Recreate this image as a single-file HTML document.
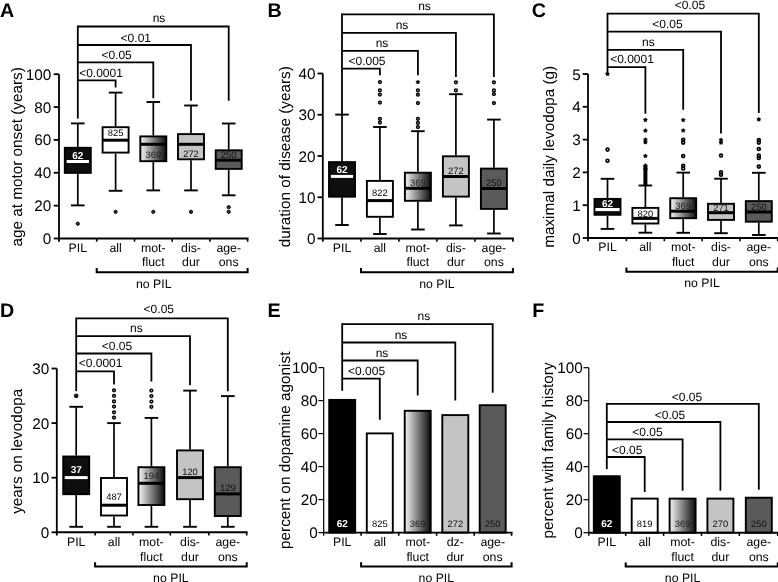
<!DOCTYPE html><html><head><meta charset="utf-8"><style>html,body{margin:0;padding:0;background:#fff;width:778px;height:582px;overflow:hidden}svg{display:block;will-change:transform;font-family:"Liberation Sans",sans-serif;text-rendering:geometricPrecision}</style></head><body>
<svg width="778" height="582" viewBox="0 0 778 582">
<defs><linearGradient id="grad" x1="0" y1="0" x2="1" y2="0"><stop offset="0" stop-color="#d4d4d4"/><stop offset="0.08" stop-color="#e4e4e4"/><stop offset="1" stop-color="#0c0c0c"/></linearGradient></defs>
<rect width="778" height="582" fill="#fff"/>
<text x="0.00" y="16.50" font-size="19.7" text-anchor="start" font-weight="bold" fill="#000" >A</text>
<text x="267.40" y="16.50" font-size="19.7" text-anchor="start" font-weight="bold" fill="#000" >B</text>
<text x="531.80" y="16.50" font-size="19.7" text-anchor="start" font-weight="bold" fill="#000" >C</text>
<text x="0.10" y="316.70" font-size="19.7" text-anchor="start" font-weight="bold" fill="#000" >D</text>
<text x="267.60" y="316.70" font-size="19.7" text-anchor="start" font-weight="bold" fill="#000" >E</text>
<text x="532.30" y="316.80" font-size="19.7" text-anchor="start" font-weight="bold" fill="#000" >F</text>
<text transform="translate(21.50,246.60) rotate(-90)" font-size="15.3" text-anchor="start">age at motor onset (years)</text>
<text transform="translate(290.00,247.30) rotate(-90)" font-size="15.3" text-anchor="start">duration of disease (years)</text>
<text transform="translate(554.00,247.80) rotate(-90)" font-size="15.3" text-anchor="start">maximal daily levodopa (g)</text>
<text transform="translate(22.00,513.80) rotate(-90)" font-size="15.3" text-anchor="start">years on levodopa</text>
<text transform="translate(289.50,548.90) rotate(-90)" font-size="15.3" text-anchor="start">percent on dopamine agonist</text>
<text transform="translate(552.70,538.40) rotate(-90)" font-size="15.3" text-anchor="start">percent with family history</text>
<line x1="59.00" y1="74.20" x2="59.00" y2="241.70" stroke="#000" stroke-width="1.8"/>
<line x1="53.70" y1="238.50" x2="59.00" y2="238.50" stroke="#000" stroke-width="1.8"/>
<text x="51.35" y="244.00" font-size="15.3" text-anchor="end" font-weight="normal" fill="#000" >0</text>
<line x1="53.70" y1="205.64" x2="59.00" y2="205.64" stroke="#000" stroke-width="1.8"/>
<text x="51.35" y="211.14" font-size="15.3" text-anchor="end" font-weight="normal" fill="#000" >20</text>
<line x1="53.70" y1="172.78" x2="59.00" y2="172.78" stroke="#000" stroke-width="1.8"/>
<text x="51.35" y="178.28" font-size="15.3" text-anchor="end" font-weight="normal" fill="#000" >40</text>
<line x1="53.70" y1="139.92" x2="59.00" y2="139.92" stroke="#000" stroke-width="1.8"/>
<text x="51.35" y="145.42" font-size="15.3" text-anchor="end" font-weight="normal" fill="#000" >60</text>
<line x1="53.70" y1="107.06" x2="59.00" y2="107.06" stroke="#000" stroke-width="1.8"/>
<text x="51.35" y="112.56" font-size="15.3" text-anchor="end" font-weight="normal" fill="#000" >80</text>
<line x1="53.70" y1="74.20" x2="59.00" y2="74.20" stroke="#000" stroke-width="1.8"/>
<text x="51.35" y="79.70" font-size="15.3" text-anchor="end" font-weight="normal" fill="#000" >100</text>
<line x1="58.10" y1="238.50" x2="248.50" y2="238.50" stroke="#000" stroke-width="1.9"/>
<line x1="96.70" y1="238.50" x2="96.70" y2="241.70" stroke="#000" stroke-width="1.6"/>
<line x1="134.50" y1="238.50" x2="134.50" y2="241.70" stroke="#000" stroke-width="1.6"/>
<line x1="172.20" y1="238.50" x2="172.20" y2="241.70" stroke="#000" stroke-width="1.6"/>
<line x1="209.90" y1="238.50" x2="209.90" y2="241.70" stroke="#000" stroke-width="1.6"/>
<line x1="247.60" y1="238.50" x2="247.60" y2="241.70" stroke="#000" stroke-width="1.6"/>
<text x="77.80" y="251.60" font-size="12.3" text-anchor="middle" font-weight="normal" fill="#000" >PIL</text>
<text x="115.60" y="251.60" font-size="12.3" text-anchor="middle" font-weight="normal" fill="#000" >all</text>
<text x="153.30" y="251.60" font-size="12.3" text-anchor="middle" font-weight="normal" fill="#000" >mot-</text>
<text x="153.30" y="266.20" font-size="12.3" text-anchor="middle" font-weight="normal" fill="#000" >fluct</text>
<text x="191.00" y="251.60" font-size="12.3" text-anchor="middle" font-weight="normal" fill="#000" >dis-</text>
<text x="191.00" y="266.20" font-size="12.3" text-anchor="middle" font-weight="normal" fill="#000" >dur</text>
<text x="228.70" y="251.60" font-size="12.3" text-anchor="middle" font-weight="normal" fill="#000" >age-</text>
<text x="228.70" y="266.20" font-size="12.3" text-anchor="middle" font-weight="normal" fill="#000" >ons</text>
<path d="M96.70,268.10 L96.70,272.30 L247.60,272.30 L247.60,268.10" stroke="#000" stroke-width="2.0" fill="none" />
<text x="153.80" y="287.90" font-size="12.3" text-anchor="middle" font-weight="normal" fill="#000" >no PIL</text>
<line x1="77.80" y1="25.60" x2="77.80" y2="118.60" stroke="#000" stroke-width="1.8"/>
<path d="M77.80,26.50 L228.70,26.50 L228.70,100.80" stroke="#000" stroke-width="1.8" fill="none" />
<text x="159.00" y="22.30" font-size="12" text-anchor="middle" font-weight="normal" fill="#000" >ns</text>
<path d="M77.80,45.00 L191.00,45.00 L191.00,100.80" stroke="#000" stroke-width="1.8" fill="none" />
<text x="135.80" y="41.60" font-size="12" text-anchor="middle" font-weight="normal" fill="#000" >&lt;0.01</text>
<path d="M77.80,62.30 L153.30,62.30 L153.30,98.20" stroke="#000" stroke-width="1.8" fill="none" />
<text x="116.60" y="58.80" font-size="12" text-anchor="middle" font-weight="normal" fill="#000" >&lt;0.05</text>
<path d="M77.80,80.30 L115.60,80.30 L115.60,87.40" stroke="#000" stroke-width="1.8" fill="none" />
<text x="101.00" y="77.10" font-size="12" text-anchor="middle" font-weight="normal" fill="#000" >&lt;0.0001</text>
<line x1="77.80" y1="123.40" x2="77.80" y2="146.90" stroke="#000" stroke-width="1.7"/>
<line x1="77.80" y1="173.80" x2="77.80" y2="205.40" stroke="#000" stroke-width="1.7"/>
<line x1="71.00" y1="123.40" x2="84.60" y2="123.40" stroke="#000" stroke-width="1.9"/>
<line x1="71.00" y1="205.40" x2="84.60" y2="205.40" stroke="#000" stroke-width="1.9"/>
<rect x="64.80" y="147.80" width="26.00" height="25.10" fill="#0e0e0e" stroke="#000" stroke-width="1.9"/>
<rect x="66.70" y="160.00" width="22.20" height="3.00" fill="#fff"/>
<text x="77.80" y="158.90" font-size="10" text-anchor="middle" font-weight="bold" fill="#fff" >62</text>
<circle cx="77.80" cy="223.70" r="1.6" fill="#333" stroke="#000" stroke-width="1.0"/>
<line x1="115.60" y1="92.60" x2="115.60" y2="126.30" stroke="#000" stroke-width="1.7"/>
<line x1="115.60" y1="153.50" x2="115.60" y2="190.80" stroke="#000" stroke-width="1.7"/>
<line x1="108.80" y1="92.60" x2="122.40" y2="92.60" stroke="#000" stroke-width="1.9"/>
<line x1="108.80" y1="190.80" x2="122.40" y2="190.80" stroke="#000" stroke-width="1.9"/>
<rect x="102.60" y="127.20" width="26.00" height="25.40" fill="#fff" stroke="#000" stroke-width="1.9"/>
<line x1="102.60" y1="140.20" x2="128.60" y2="140.20" stroke="#000" stroke-width="3.0"/>
<text x="115.60" y="136.10" font-size="9.4" text-anchor="middle" font-weight="normal" fill="#000" >825</text>
<circle cx="115.60" cy="211.80" r="1.6" fill="#333" stroke="#000" stroke-width="1.0"/>
<line x1="153.30" y1="102.00" x2="153.30" y2="135.50" stroke="#000" stroke-width="1.7"/>
<line x1="153.30" y1="162.10" x2="153.30" y2="190.40" stroke="#000" stroke-width="1.7"/>
<line x1="146.50" y1="102.00" x2="160.10" y2="102.00" stroke="#000" stroke-width="1.9"/>
<line x1="146.50" y1="190.40" x2="160.10" y2="190.40" stroke="#000" stroke-width="1.9"/>
<rect x="140.30" y="136.40" width="26.00" height="24.80" fill="url(#grad)" stroke="#000" stroke-width="1.9"/>
<line x1="140.30" y1="144.30" x2="166.30" y2="144.30" stroke="#000" stroke-width="3.0"/>
<text x="153.30" y="157.90" font-size="9.4" text-anchor="middle" font-weight="normal" fill="#222" >369</text>
<circle cx="153.30" cy="211.80" r="1.6" fill="#333" stroke="#000" stroke-width="1.0"/>
<line x1="191.00" y1="105.50" x2="191.00" y2="133.20" stroke="#000" stroke-width="1.7"/>
<line x1="191.00" y1="160.20" x2="191.00" y2="190.40" stroke="#000" stroke-width="1.7"/>
<line x1="184.20" y1="105.50" x2="197.80" y2="105.50" stroke="#000" stroke-width="1.9"/>
<line x1="184.20" y1="190.40" x2="197.80" y2="190.40" stroke="#000" stroke-width="1.9"/>
<rect x="178.00" y="134.10" width="26.00" height="25.20" fill="#c4c4c4" stroke="#000" stroke-width="1.9"/>
<line x1="178.00" y1="144.30" x2="204.00" y2="144.30" stroke="#000" stroke-width="3.0"/>
<text x="191.00" y="156.80" font-size="9.4" text-anchor="middle" font-weight="normal" fill="#111" >272</text>
<circle cx="191.00" cy="211.80" r="1.6" fill="#333" stroke="#000" stroke-width="1.0"/>
<line x1="228.70" y1="123.50" x2="228.70" y2="149.40" stroke="#000" stroke-width="1.7"/>
<line x1="228.70" y1="169.80" x2="228.70" y2="195.30" stroke="#000" stroke-width="1.7"/>
<line x1="221.90" y1="123.50" x2="235.50" y2="123.50" stroke="#000" stroke-width="1.9"/>
<line x1="221.90" y1="195.30" x2="235.50" y2="195.30" stroke="#000" stroke-width="1.9"/>
<rect x="215.70" y="150.30" width="26.00" height="18.60" fill="#5a5a5a" stroke="#000" stroke-width="1.9"/>
<line x1="215.70" y1="160.20" x2="241.70" y2="160.20" stroke="#000" stroke-width="3.0"/>
<text x="228.70" y="157.60" font-size="9.4" text-anchor="middle" font-weight="normal" fill="#111" >250</text>
<circle cx="228.70" cy="207.20" r="1.6" fill="#333" stroke="#000" stroke-width="1.0"/>
<circle cx="228.70" cy="211.80" r="1.6" fill="#333" stroke="#000" stroke-width="1.0"/>
<line x1="322.80" y1="73.50" x2="322.80" y2="241.70" stroke="#000" stroke-width="1.8"/>
<line x1="317.50" y1="238.50" x2="322.80" y2="238.50" stroke="#000" stroke-width="1.8"/>
<text x="315.45" y="244.00" font-size="15.3" text-anchor="end" font-weight="normal" fill="#000" >0</text>
<line x1="317.50" y1="197.25" x2="322.80" y2="197.25" stroke="#000" stroke-width="1.8"/>
<text x="315.45" y="202.75" font-size="15.3" text-anchor="end" font-weight="normal" fill="#000" >10</text>
<line x1="317.50" y1="156.00" x2="322.80" y2="156.00" stroke="#000" stroke-width="1.8"/>
<text x="315.45" y="161.50" font-size="15.3" text-anchor="end" font-weight="normal" fill="#000" >20</text>
<line x1="317.50" y1="114.75" x2="322.80" y2="114.75" stroke="#000" stroke-width="1.8"/>
<text x="315.45" y="120.25" font-size="15.3" text-anchor="end" font-weight="normal" fill="#000" >30</text>
<line x1="317.50" y1="73.50" x2="322.80" y2="73.50" stroke="#000" stroke-width="1.8"/>
<text x="315.45" y="79.00" font-size="15.3" text-anchor="end" font-weight="normal" fill="#000" >40</text>
<line x1="321.90" y1="238.50" x2="513.80" y2="238.50" stroke="#000" stroke-width="1.9"/>
<line x1="361.00" y1="238.50" x2="361.00" y2="241.70" stroke="#000" stroke-width="1.6"/>
<line x1="398.90" y1="238.50" x2="398.90" y2="241.70" stroke="#000" stroke-width="1.6"/>
<line x1="436.90" y1="238.50" x2="436.90" y2="241.70" stroke="#000" stroke-width="1.6"/>
<line x1="474.90" y1="238.50" x2="474.90" y2="241.70" stroke="#000" stroke-width="1.6"/>
<line x1="512.90" y1="238.50" x2="512.90" y2="241.70" stroke="#000" stroke-width="1.6"/>
<text x="342.00" y="251.60" font-size="12.3" text-anchor="middle" font-weight="normal" fill="#000" >PIL</text>
<text x="379.90" y="251.60" font-size="12.3" text-anchor="middle" font-weight="normal" fill="#000" >all</text>
<text x="417.90" y="251.60" font-size="12.3" text-anchor="middle" font-weight="normal" fill="#000" >mot-</text>
<text x="417.90" y="266.20" font-size="12.3" text-anchor="middle" font-weight="normal" fill="#000" >fluct</text>
<text x="455.90" y="251.60" font-size="12.3" text-anchor="middle" font-weight="normal" fill="#000" >dis-</text>
<text x="455.90" y="266.20" font-size="12.3" text-anchor="middle" font-weight="normal" fill="#000" >dur</text>
<text x="493.90" y="251.60" font-size="12.3" text-anchor="middle" font-weight="normal" fill="#000" >age-</text>
<text x="493.90" y="266.20" font-size="12.3" text-anchor="middle" font-weight="normal" fill="#000" >ons</text>
<path d="M361.00,268.10 L361.00,272.30 L512.90,272.30 L512.90,268.10" stroke="#000" stroke-width="2.0" fill="none" />
<text x="436.95" y="287.90" font-size="12.3" text-anchor="middle" font-weight="normal" fill="#000" >no PIL</text>
<line x1="342.00" y1="13.50" x2="342.00" y2="114.60" stroke="#000" stroke-width="1.8"/>
<path d="M342.00,14.40 L493.90,14.40 L493.90,76.90" stroke="#000" stroke-width="1.8" fill="none" />
<text x="424.50" y="10.30" font-size="12" text-anchor="middle" font-weight="normal" fill="#000" >ns</text>
<path d="M342.00,32.80 L455.90,32.80 L455.90,76.90" stroke="#000" stroke-width="1.8" fill="none" />
<text x="402.00" y="29.30" font-size="12" text-anchor="middle" font-weight="normal" fill="#000" >ns</text>
<path d="M342.00,50.80 L417.90,50.80 L417.90,75.20" stroke="#000" stroke-width="1.8" fill="none" />
<text x="382.00" y="47.30" font-size="12" text-anchor="middle" font-weight="normal" fill="#000" >ns</text>
<path d="M342.00,68.60 L379.90,68.60 L379.90,75.20" stroke="#000" stroke-width="1.8" fill="none" />
<text x="367.00" y="65.30" font-size="12" text-anchor="middle" font-weight="normal" fill="#000" >&lt;0.005</text>
<line x1="342.00" y1="114.60" x2="342.00" y2="161.20" stroke="#000" stroke-width="1.7"/>
<line x1="342.00" y1="197.60" x2="342.00" y2="225.00" stroke="#000" stroke-width="1.7"/>
<line x1="335.20" y1="114.60" x2="348.80" y2="114.60" stroke="#000" stroke-width="1.9"/>
<line x1="335.20" y1="225.00" x2="348.80" y2="225.00" stroke="#000" stroke-width="1.9"/>
<rect x="329.00" y="162.10" width="26.00" height="34.60" fill="#0e0e0e" stroke="#000" stroke-width="1.9"/>
<rect x="330.90" y="174.90" width="22.20" height="3.00" fill="#fff"/>
<text x="342.00" y="173.40" font-size="10" text-anchor="middle" font-weight="bold" fill="#fff" >62</text>
<line x1="379.90" y1="127.00" x2="379.90" y2="180.00" stroke="#000" stroke-width="1.7"/>
<line x1="379.90" y1="217.70" x2="379.90" y2="234.00" stroke="#000" stroke-width="1.7"/>
<line x1="373.10" y1="127.00" x2="386.70" y2="127.00" stroke="#000" stroke-width="1.9"/>
<line x1="373.10" y1="234.00" x2="386.70" y2="234.00" stroke="#000" stroke-width="1.9"/>
<rect x="366.90" y="180.90" width="26.00" height="35.90" fill="#fff" stroke="#000" stroke-width="1.9"/>
<line x1="366.90" y1="200.60" x2="392.90" y2="200.60" stroke="#000" stroke-width="3.0"/>
<text x="379.90" y="195.80" font-size="9.4" text-anchor="middle" font-weight="normal" fill="#000" >822</text>
<circle cx="379.90" cy="82.10" r="1.35" fill="none" stroke="#000" stroke-width="1.55"/>
<circle cx="379.90" cy="90.30" r="1.35" fill="none" stroke="#000" stroke-width="1.55"/>
<circle cx="379.90" cy="94.50" r="1.35" fill="none" stroke="#000" stroke-width="1.55"/>
<circle cx="379.90" cy="102.60" r="1.35" fill="none" stroke="#000" stroke-width="1.55"/>
<circle cx="379.90" cy="118.80" r="1.35" fill="none" stroke="#000" stroke-width="1.55"/>
<circle cx="379.90" cy="122.60" r="1.35" fill="none" stroke="#000" stroke-width="1.55"/>
<line x1="417.90" y1="131.20" x2="417.90" y2="171.80" stroke="#000" stroke-width="1.7"/>
<line x1="417.90" y1="201.70" x2="417.90" y2="229.50" stroke="#000" stroke-width="1.7"/>
<line x1="411.10" y1="131.20" x2="424.70" y2="131.20" stroke="#000" stroke-width="1.9"/>
<line x1="411.10" y1="229.50" x2="424.70" y2="229.50" stroke="#000" stroke-width="1.9"/>
<rect x="404.90" y="172.70" width="26.00" height="28.10" fill="url(#grad)" stroke="#000" stroke-width="1.9"/>
<line x1="404.90" y1="188.30" x2="430.90" y2="188.30" stroke="#000" stroke-width="3.0"/>
<text x="417.90" y="186.20" font-size="9.4" text-anchor="middle" font-weight="normal" fill="#222" >369</text>
<polygon points="417.90,79.95 418.69,81.01 419.94,81.44 419.18,82.52 419.16,83.84 417.90,83.45 416.64,83.84 416.62,82.52 415.86,81.44 417.11,81.01" fill="#000" stroke="#000" stroke-width="0.5"/>
<circle cx="417.90" cy="90.30" r="1.35" fill="none" stroke="#000" stroke-width="1.55"/>
<circle cx="417.90" cy="94.70" r="1.35" fill="none" stroke="#000" stroke-width="1.55"/>
<circle cx="417.90" cy="103.00" r="1.35" fill="none" stroke="#000" stroke-width="1.55"/>
<circle cx="417.90" cy="118.80" r="1.35" fill="none" stroke="#000" stroke-width="1.55"/>
<circle cx="417.90" cy="122.90" r="1.35" fill="none" stroke="#000" stroke-width="1.55"/>
<circle cx="417.90" cy="127.00" r="1.35" fill="none" stroke="#000" stroke-width="1.55"/>
<line x1="455.90" y1="94.20" x2="455.90" y2="155.40" stroke="#000" stroke-width="1.7"/>
<line x1="455.90" y1="197.50" x2="455.90" y2="225.40" stroke="#000" stroke-width="1.7"/>
<line x1="449.10" y1="94.20" x2="462.70" y2="94.20" stroke="#000" stroke-width="1.9"/>
<line x1="449.10" y1="225.40" x2="462.70" y2="225.40" stroke="#000" stroke-width="1.9"/>
<rect x="442.90" y="156.30" width="26.00" height="40.30" fill="#c4c4c4" stroke="#000" stroke-width="1.9"/>
<line x1="442.90" y1="176.50" x2="468.90" y2="176.50" stroke="#000" stroke-width="3.0"/>
<text x="455.90" y="173.60" font-size="9.4" text-anchor="middle" font-weight="normal" fill="#111" >272</text>
<circle cx="455.90" cy="82.30" r="1.35" fill="none" stroke="#000" stroke-width="1.55"/>
<circle cx="455.90" cy="90.40" r="1.35" fill="none" stroke="#000" stroke-width="1.55"/>
<line x1="493.90" y1="119.60" x2="493.90" y2="167.70" stroke="#000" stroke-width="1.7"/>
<line x1="493.90" y1="209.80" x2="493.90" y2="233.50" stroke="#000" stroke-width="1.7"/>
<line x1="487.10" y1="119.60" x2="500.70" y2="119.60" stroke="#000" stroke-width="1.9"/>
<line x1="487.10" y1="233.50" x2="500.70" y2="233.50" stroke="#000" stroke-width="1.9"/>
<rect x="480.90" y="168.60" width="26.00" height="40.30" fill="#5a5a5a" stroke="#000" stroke-width="1.9"/>
<line x1="480.90" y1="188.50" x2="506.90" y2="188.50" stroke="#000" stroke-width="3.0"/>
<text x="493.90" y="185.90" font-size="9.4" text-anchor="middle" font-weight="normal" fill="#111" >250</text>
<circle cx="493.90" cy="82.30" r="1.35" fill="none" stroke="#000" stroke-width="1.55"/>
<circle cx="493.90" cy="90.40" r="1.35" fill="none" stroke="#000" stroke-width="1.55"/>
<circle cx="493.90" cy="94.00" r="1.35" fill="none" stroke="#000" stroke-width="1.55"/>
<circle cx="493.90" cy="103.00" r="1.35" fill="none" stroke="#000" stroke-width="1.55"/>
<line x1="588.00" y1="74.00" x2="588.00" y2="241.20" stroke="#000" stroke-width="1.8"/>
<line x1="582.70" y1="238.00" x2="588.00" y2="238.00" stroke="#000" stroke-width="1.8"/>
<text x="580.80" y="243.50" font-size="15.3" text-anchor="end" font-weight="normal" fill="#000" >0</text>
<line x1="582.70" y1="205.20" x2="588.00" y2="205.20" stroke="#000" stroke-width="1.8"/>
<text x="580.80" y="210.70" font-size="15.3" text-anchor="end" font-weight="normal" fill="#000" >1</text>
<line x1="582.70" y1="172.40" x2="588.00" y2="172.40" stroke="#000" stroke-width="1.8"/>
<text x="580.80" y="177.90" font-size="15.3" text-anchor="end" font-weight="normal" fill="#000" >2</text>
<line x1="582.70" y1="139.60" x2="588.00" y2="139.60" stroke="#000" stroke-width="1.8"/>
<text x="580.80" y="145.10" font-size="15.3" text-anchor="end" font-weight="normal" fill="#000" >3</text>
<line x1="582.70" y1="106.80" x2="588.00" y2="106.80" stroke="#000" stroke-width="1.8"/>
<text x="580.80" y="112.30" font-size="15.3" text-anchor="end" font-weight="normal" fill="#000" >4</text>
<line x1="582.70" y1="74.00" x2="588.00" y2="74.00" stroke="#000" stroke-width="1.8"/>
<text x="580.80" y="79.50" font-size="15.3" text-anchor="end" font-weight="normal" fill="#000" >5</text>
<line x1="587.10" y1="238.00" x2="778.60" y2="238.00" stroke="#000" stroke-width="1.9"/>
<line x1="626.40" y1="238.00" x2="626.40" y2="241.20" stroke="#000" stroke-width="1.6"/>
<line x1="664.30" y1="238.00" x2="664.30" y2="241.20" stroke="#000" stroke-width="1.6"/>
<line x1="702.10" y1="238.00" x2="702.10" y2="241.20" stroke="#000" stroke-width="1.6"/>
<line x1="739.90" y1="238.00" x2="739.90" y2="241.20" stroke="#000" stroke-width="1.6"/>
<line x1="777.70" y1="238.00" x2="777.70" y2="241.20" stroke="#000" stroke-width="1.6"/>
<text x="607.50" y="251.10" font-size="12.3" text-anchor="middle" font-weight="normal" fill="#000" >PIL</text>
<text x="645.40" y="251.10" font-size="12.3" text-anchor="middle" font-weight="normal" fill="#000" >all</text>
<text x="683.20" y="251.10" font-size="12.3" text-anchor="middle" font-weight="normal" fill="#000" >mot-</text>
<text x="683.20" y="265.70" font-size="12.3" text-anchor="middle" font-weight="normal" fill="#000" >fluct</text>
<text x="721.00" y="251.10" font-size="12.3" text-anchor="middle" font-weight="normal" fill="#000" >dis-</text>
<text x="721.00" y="265.70" font-size="12.3" text-anchor="middle" font-weight="normal" fill="#000" >dur</text>
<text x="758.80" y="251.10" font-size="12.3" text-anchor="middle" font-weight="normal" fill="#000" >age-</text>
<text x="758.80" y="265.70" font-size="12.3" text-anchor="middle" font-weight="normal" fill="#000" >ons</text>
<path d="M626.40,267.60 L626.40,271.80 L777.70,271.80 L777.70,267.60" stroke="#000" stroke-width="2.0" fill="none" />
<text x="702.05" y="287.40" font-size="12.3" text-anchor="middle" font-weight="normal" fill="#000" >no PIL</text>
<line x1="607.50" y1="12.80" x2="607.50" y2="74.00" stroke="#000" stroke-width="1.8"/>
<path d="M607.50,13.70 L758.80,13.70 L758.80,112.90" stroke="#000" stroke-width="1.8" fill="none" />
<text x="690.00" y="8.50" font-size="12" text-anchor="middle" font-weight="normal" fill="#000" >&lt;0.05</text>
<path d="M607.50,31.60 L721.00,31.60 L721.00,133.50" stroke="#000" stroke-width="1.8" fill="none" />
<text x="667.50" y="27.60" font-size="12" text-anchor="middle" font-weight="normal" fill="#000" >&lt;0.05</text>
<path d="M607.50,49.90 L683.20,49.90 L683.20,109.80" stroke="#000" stroke-width="1.8" fill="none" />
<text x="648.30" y="46.30" font-size="12" text-anchor="middle" font-weight="normal" fill="#000" >ns</text>
<path d="M607.50,67.20 L645.40,67.20 L645.40,113.80" stroke="#000" stroke-width="1.8" fill="none" />
<text x="632.00" y="63.10" font-size="12" text-anchor="middle" font-weight="normal" fill="#000" >&lt;0.0001</text>
<line x1="607.50" y1="178.80" x2="607.50" y2="198.00" stroke="#000" stroke-width="1.7"/>
<line x1="607.50" y1="215.70" x2="607.50" y2="228.90" stroke="#000" stroke-width="1.7"/>
<line x1="600.70" y1="178.80" x2="614.30" y2="178.80" stroke="#000" stroke-width="1.9"/>
<line x1="600.70" y1="228.90" x2="614.30" y2="228.90" stroke="#000" stroke-width="1.9"/>
<rect x="594.50" y="198.90" width="26.00" height="15.90" fill="#0e0e0e" stroke="#000" stroke-width="1.9"/>
<rect x="595.40" y="208.00" width="24.20" height="3.10" fill="#fff"/>
<text x="607.50" y="207.00" font-size="10" text-anchor="middle" font-weight="bold" fill="#fff" >62</text>
<polygon points="607.50,71.85 608.29,72.91 609.54,73.34 608.78,74.42 608.76,75.74 607.50,75.35 606.24,75.74 606.22,74.42 605.46,73.34 606.71,72.91" fill="#000" stroke="#000" stroke-width="0.5"/>
<circle cx="607.50" cy="149.60" r="1.45" fill="none" stroke="#000" stroke-width="1.65"/>
<circle cx="607.50" cy="160.70" r="1.45" fill="none" stroke="#000" stroke-width="1.65"/>
<line x1="645.40" y1="185.50" x2="645.40" y2="207.00" stroke="#000" stroke-width="1.7"/>
<line x1="645.40" y1="224.40" x2="645.40" y2="232.70" stroke="#000" stroke-width="1.7"/>
<line x1="638.60" y1="185.50" x2="652.20" y2="185.50" stroke="#000" stroke-width="1.9"/>
<line x1="638.60" y1="232.70" x2="652.20" y2="232.70" stroke="#000" stroke-width="1.9"/>
<rect x="632.40" y="207.90" width="26.00" height="15.60" fill="#fff" stroke="#000" stroke-width="1.9"/>
<line x1="632.40" y1="218.40" x2="658.40" y2="218.40" stroke="#000" stroke-width="3.0"/>
<text x="645.40" y="217.00" font-size="9.4" text-anchor="middle" font-weight="normal" fill="#000" >820</text>
<rect x="643.40" y="165.80" width="4.00" height="19.20" fill="#000"/>
<polygon points="645.40,117.75 646.19,118.81 647.44,119.24 646.68,120.32 646.66,121.64 645.40,121.25 644.14,121.64 644.12,120.32 643.36,119.24 644.61,118.81" fill="#000" stroke="#000" stroke-width="0.5"/>
<polygon points="645.40,128.45 646.19,129.51 647.44,129.94 646.68,131.02 646.66,132.34 645.40,131.95 644.14,132.34 644.12,131.02 643.36,129.94 644.61,129.51" fill="#000" stroke="#000" stroke-width="0.5"/>
<polygon points="645.40,137.45 646.19,138.51 647.44,138.94 646.68,140.02 646.66,141.34 645.40,140.95 644.14,141.34 644.12,140.02 643.36,138.94 644.61,138.51" fill="#000" stroke="#000" stroke-width="0.5"/>
<polygon points="645.40,140.15 646.19,141.21 647.44,141.64 646.68,142.72 646.66,144.04 645.40,143.65 644.14,144.04 644.12,142.72 643.36,141.64 644.61,141.21" fill="#000" stroke="#000" stroke-width="0.5"/>
<polygon points="645.40,153.85 646.19,154.91 647.44,155.34 646.68,156.42 646.66,157.74 645.40,157.35 644.14,157.74 644.12,156.42 643.36,155.34 644.61,154.91" fill="#000" stroke="#000" stroke-width="0.5"/>
<polygon points="645.40,163.55 646.19,164.61 647.44,165.04 646.68,166.12 646.66,167.44 645.40,167.05 644.14,167.44 644.12,166.12 643.36,165.04 644.61,164.61" fill="#000" stroke="#000" stroke-width="0.5"/>
<polygon points="645.40,166.95 646.19,168.01 647.44,168.44 646.68,169.52 646.66,170.84 645.40,170.45 644.14,170.84 644.12,169.52 643.36,168.44 644.61,168.01" fill="#000" stroke="#000" stroke-width="0.5"/>
<line x1="683.20" y1="172.60" x2="683.20" y2="197.30" stroke="#000" stroke-width="1.7"/>
<line x1="683.20" y1="219.10" x2="683.20" y2="232.80" stroke="#000" stroke-width="1.7"/>
<line x1="676.40" y1="172.60" x2="690.00" y2="172.60" stroke="#000" stroke-width="1.9"/>
<line x1="676.40" y1="232.80" x2="690.00" y2="232.80" stroke="#000" stroke-width="1.9"/>
<rect x="670.20" y="198.20" width="26.00" height="20.00" fill="url(#grad)" stroke="#000" stroke-width="1.9"/>
<line x1="670.20" y1="211.20" x2="696.20" y2="211.20" stroke="#000" stroke-width="3.0"/>
<text x="683.20" y="208.50" font-size="9.4" text-anchor="middle" font-weight="normal" fill="#222" >369</text>
<polygon points="683.20,117.85 683.99,118.91 685.24,119.34 684.48,120.42 684.46,121.74 683.20,121.35 681.94,121.74 681.92,120.42 681.16,119.34 682.41,118.91" fill="#000" stroke="#000" stroke-width="0.5"/>
<polygon points="683.20,128.35 683.99,129.41 685.24,129.84 684.48,130.92 684.46,132.24 683.20,131.85 681.94,132.24 681.92,130.92 681.16,129.84 682.41,129.41" fill="#000" stroke="#000" stroke-width="0.5"/>
<circle cx="683.20" cy="139.80" r="1.45" fill="none" stroke="#000" stroke-width="1.65"/>
<circle cx="683.20" cy="142.60" r="1.45" fill="none" stroke="#000" stroke-width="1.65"/>
<circle cx="683.20" cy="156.10" r="1.45" fill="none" stroke="#000" stroke-width="1.65"/>
<circle cx="683.20" cy="165.80" r="1.45" fill="none" stroke="#000" stroke-width="1.65"/>
<circle cx="683.20" cy="168.40" r="1.45" fill="none" stroke="#000" stroke-width="1.65"/>
<line x1="721.00" y1="178.70" x2="721.00" y2="202.90" stroke="#000" stroke-width="1.7"/>
<line x1="721.00" y1="220.80" x2="721.00" y2="233.20" stroke="#000" stroke-width="1.7"/>
<line x1="714.20" y1="178.70" x2="727.80" y2="178.70" stroke="#000" stroke-width="1.9"/>
<line x1="714.20" y1="233.20" x2="727.80" y2="233.20" stroke="#000" stroke-width="1.9"/>
<rect x="708.00" y="203.80" width="26.00" height="16.10" fill="#c4c4c4" stroke="#000" stroke-width="1.9"/>
<line x1="708.00" y1="212.70" x2="734.00" y2="212.70" stroke="#000" stroke-width="3.0"/>
<text x="721.00" y="210.90" font-size="9.4" text-anchor="middle" font-weight="normal" fill="#111" >271</text>
<polygon points="721.00,137.85 721.79,138.91 723.04,139.34 722.28,140.42 722.26,141.74 721.00,141.35 719.74,141.74 719.72,140.42 718.96,139.34 720.21,138.91" fill="#000" stroke="#000" stroke-width="0.5"/>
<polygon points="721.00,140.45 721.79,141.51 723.04,141.94 722.28,143.02 722.26,144.34 721.00,143.95 719.74,144.34 719.72,143.02 718.96,141.94 720.21,141.51" fill="#000" stroke="#000" stroke-width="0.5"/>
<circle cx="721.00" cy="155.50" r="1.45" fill="none" stroke="#000" stroke-width="1.65"/>
<circle cx="721.00" cy="172.20" r="1.45" fill="none" stroke="#000" stroke-width="1.65"/>
<circle cx="721.00" cy="174.80" r="1.45" fill="none" stroke="#000" stroke-width="1.65"/>
<line x1="758.80" y1="172.80" x2="758.80" y2="200.20" stroke="#000" stroke-width="1.7"/>
<line x1="758.80" y1="222.60" x2="758.80" y2="235.00" stroke="#000" stroke-width="1.7"/>
<line x1="752.00" y1="172.80" x2="765.60" y2="172.80" stroke="#000" stroke-width="1.9"/>
<line x1="752.00" y1="235.00" x2="765.60" y2="235.00" stroke="#000" stroke-width="1.9"/>
<rect x="745.80" y="201.10" width="26.00" height="20.60" fill="#5a5a5a" stroke="#000" stroke-width="1.9"/>
<line x1="745.80" y1="212.00" x2="771.80" y2="212.00" stroke="#000" stroke-width="3.0"/>
<text x="758.80" y="209.70" font-size="9.4" text-anchor="middle" font-weight="normal" fill="#111" >250</text>
<polygon points="758.80,117.25 759.59,118.31 760.84,118.74 760.08,119.82 760.06,121.14 758.80,120.75 757.54,121.14 757.52,119.82 756.76,118.74 758.01,118.31" fill="#000" stroke="#000" stroke-width="0.5"/>
<circle cx="758.80" cy="140.00" r="1.45" fill="none" stroke="#000" stroke-width="1.65"/>
<circle cx="758.80" cy="142.60" r="1.45" fill="none" stroke="#000" stroke-width="1.65"/>
<circle cx="758.80" cy="149.00" r="1.45" fill="none" stroke="#000" stroke-width="1.65"/>
<circle cx="758.80" cy="155.50" r="1.45" fill="none" stroke="#000" stroke-width="1.65"/>
<circle cx="758.80" cy="158.00" r="1.45" fill="none" stroke="#000" stroke-width="1.65"/>
<circle cx="758.80" cy="166.60" r="1.45" fill="none" stroke="#000" stroke-width="1.65"/>
<line x1="56.80" y1="368.50" x2="56.80" y2="535.50" stroke="#000" stroke-width="1.8"/>
<line x1="51.50" y1="532.30" x2="56.80" y2="532.30" stroke="#000" stroke-width="1.8"/>
<text x="49.25" y="537.80" font-size="15.3" text-anchor="end" font-weight="normal" fill="#000" >0</text>
<line x1="51.50" y1="477.70" x2="56.80" y2="477.70" stroke="#000" stroke-width="1.8"/>
<text x="49.25" y="483.20" font-size="15.3" text-anchor="end" font-weight="normal" fill="#000" >10</text>
<line x1="51.50" y1="423.10" x2="56.80" y2="423.10" stroke="#000" stroke-width="1.8"/>
<text x="49.25" y="428.60" font-size="15.3" text-anchor="end" font-weight="normal" fill="#000" >20</text>
<line x1="51.50" y1="368.50" x2="56.80" y2="368.50" stroke="#000" stroke-width="1.8"/>
<text x="49.25" y="374.00" font-size="15.3" text-anchor="end" font-weight="normal" fill="#000" >30</text>
<line x1="55.90" y1="532.30" x2="247.60" y2="532.30" stroke="#000" stroke-width="1.9"/>
<line x1="95.10" y1="532.30" x2="95.10" y2="535.50" stroke="#000" stroke-width="1.6"/>
<line x1="132.90" y1="532.30" x2="132.90" y2="535.50" stroke="#000" stroke-width="1.6"/>
<line x1="170.30" y1="532.30" x2="170.30" y2="535.50" stroke="#000" stroke-width="1.6"/>
<line x1="208.90" y1="532.30" x2="208.90" y2="535.50" stroke="#000" stroke-width="1.6"/>
<line x1="246.70" y1="532.30" x2="246.70" y2="535.50" stroke="#000" stroke-width="1.6"/>
<text x="76.20" y="546.00" font-size="12.3" text-anchor="middle" font-weight="normal" fill="#000" >PIL</text>
<text x="114.00" y="546.00" font-size="12.3" text-anchor="middle" font-weight="normal" fill="#000" >all</text>
<text x="151.40" y="546.00" font-size="12.3" text-anchor="middle" font-weight="normal" fill="#000" >mot-</text>
<text x="151.40" y="560.60" font-size="12.3" text-anchor="middle" font-weight="normal" fill="#000" >fluct</text>
<text x="190.00" y="546.00" font-size="12.3" text-anchor="middle" font-weight="normal" fill="#000" >dis-</text>
<text x="190.00" y="560.60" font-size="12.3" text-anchor="middle" font-weight="normal" fill="#000" >dur</text>
<text x="227.80" y="546.00" font-size="12.3" text-anchor="middle" font-weight="normal" fill="#000" >age-</text>
<text x="227.80" y="560.60" font-size="12.3" text-anchor="middle" font-weight="normal" fill="#000" >ons</text>
<path d="M95.10,562.20 L95.10,566.40 L246.70,566.40 L246.70,562.20" stroke="#000" stroke-width="2.0" fill="none" />
<text x="170.90" y="582.00" font-size="12.3" text-anchor="middle" font-weight="normal" fill="#000" >no PIL</text>
<line x1="76.20" y1="317.50" x2="76.20" y2="391.10" stroke="#000" stroke-width="1.8"/>
<path d="M76.20,318.40 L227.80,318.40 L227.80,391.30" stroke="#000" stroke-width="1.8" fill="none" />
<text x="158.80" y="313.30" font-size="12" text-anchor="middle" font-weight="normal" fill="#000" >&lt;0.05</text>
<path d="M76.20,336.10 L190.00,336.10 L190.00,385.30" stroke="#000" stroke-width="1.8" fill="none" />
<text x="136.40" y="332.10" font-size="12" text-anchor="middle" font-weight="normal" fill="#000" >ns</text>
<path d="M76.20,353.50 L151.40,353.50 L151.40,381.50" stroke="#000" stroke-width="1.8" fill="none" />
<text x="117.00" y="350.10" font-size="12" text-anchor="middle" font-weight="normal" fill="#000" >&lt;0.05</text>
<path d="M76.20,371.40 L114.00,371.40 L114.00,384.40" stroke="#000" stroke-width="1.8" fill="none" />
<text x="100.60" y="367.20" font-size="12" text-anchor="middle" font-weight="normal" fill="#000" >&lt;0.0001</text>
<line x1="76.20" y1="406.80" x2="76.20" y2="455.60" stroke="#000" stroke-width="1.7"/>
<line x1="76.20" y1="495.10" x2="76.20" y2="526.80" stroke="#000" stroke-width="1.7"/>
<line x1="69.40" y1="406.80" x2="83.00" y2="406.80" stroke="#000" stroke-width="1.9"/>
<line x1="69.40" y1="526.80" x2="83.00" y2="526.80" stroke="#000" stroke-width="1.9"/>
<rect x="63.20" y="456.50" width="26.00" height="37.70" fill="#0e0e0e" stroke="#000" stroke-width="1.9"/>
<rect x="64.70" y="476.10" width="23.00" height="3.00" fill="#fff"/>
<text x="76.20" y="473.00" font-size="10" text-anchor="middle" font-weight="bold" fill="#fff" >37</text>
<rect x="74.60" y="394.20" width="3.2" height="3.2" rx="0.6" fill="#222" stroke="#000" stroke-width="1.0"/>
<line x1="114.00" y1="423.10" x2="114.00" y2="477.10" stroke="#000" stroke-width="1.7"/>
<line x1="114.00" y1="516.40" x2="114.00" y2="526.80" stroke="#000" stroke-width="1.7"/>
<line x1="107.20" y1="423.10" x2="120.80" y2="423.10" stroke="#000" stroke-width="1.9"/>
<line x1="107.20" y1="526.80" x2="120.80" y2="526.80" stroke="#000" stroke-width="1.9"/>
<rect x="101.00" y="478.00" width="26.00" height="37.50" fill="#fff" stroke="#000" stroke-width="1.9"/>
<line x1="101.00" y1="505.20" x2="127.00" y2="505.20" stroke="#000" stroke-width="3.0"/>
<text x="114.00" y="500.20" font-size="9.4" text-anchor="middle" font-weight="normal" fill="#000" >487</text>
<circle cx="114.00" cy="390.30" r="1.35" fill="none" stroke="#000" stroke-width="1.55"/>
<circle cx="114.00" cy="395.80" r="1.35" fill="none" stroke="#000" stroke-width="1.55"/>
<circle cx="114.00" cy="401.40" r="1.35" fill="none" stroke="#000" stroke-width="1.55"/>
<circle cx="114.00" cy="406.60" r="1.35" fill="none" stroke="#000" stroke-width="1.55"/>
<circle cx="114.00" cy="412.30" r="1.35" fill="none" stroke="#000" stroke-width="1.55"/>
<circle cx="114.00" cy="417.60" r="1.35" fill="none" stroke="#000" stroke-width="1.55"/>
<line x1="151.40" y1="417.90" x2="151.40" y2="466.30" stroke="#000" stroke-width="1.7"/>
<line x1="151.40" y1="505.90" x2="151.40" y2="526.80" stroke="#000" stroke-width="1.7"/>
<line x1="144.60" y1="417.90" x2="158.20" y2="417.90" stroke="#000" stroke-width="1.9"/>
<line x1="144.60" y1="526.80" x2="158.20" y2="526.80" stroke="#000" stroke-width="1.9"/>
<rect x="138.40" y="467.20" width="26.00" height="37.80" fill="url(#grad)" stroke="#000" stroke-width="1.9"/>
<line x1="138.40" y1="483.30" x2="164.40" y2="483.30" stroke="#000" stroke-width="3.0"/>
<text x="151.40" y="479.40" font-size="9.4" text-anchor="middle" font-weight="normal" fill="#222" >194</text>
<circle cx="151.40" cy="390.60" r="1.35" fill="none" stroke="#000" stroke-width="1.55"/>
<circle cx="151.40" cy="396.10" r="1.35" fill="none" stroke="#000" stroke-width="1.55"/>
<circle cx="151.40" cy="401.60" r="1.35" fill="none" stroke="#000" stroke-width="1.55"/>
<circle cx="151.40" cy="406.80" r="1.35" fill="none" stroke="#000" stroke-width="1.55"/>
<line x1="190.00" y1="390.60" x2="190.00" y2="449.50" stroke="#000" stroke-width="1.7"/>
<line x1="190.00" y1="500.10" x2="190.00" y2="526.80" stroke="#000" stroke-width="1.7"/>
<line x1="183.20" y1="390.60" x2="196.80" y2="390.60" stroke="#000" stroke-width="1.9"/>
<line x1="183.20" y1="526.80" x2="196.80" y2="526.80" stroke="#000" stroke-width="1.9"/>
<rect x="177.00" y="450.40" width="26.00" height="48.80" fill="#c4c4c4" stroke="#000" stroke-width="1.9"/>
<line x1="177.00" y1="477.60" x2="203.00" y2="477.60" stroke="#000" stroke-width="3.0"/>
<text x="190.00" y="475.00" font-size="9.4" text-anchor="middle" font-weight="normal" fill="#111" >120</text>
<line x1="227.80" y1="396.10" x2="227.80" y2="466.30" stroke="#000" stroke-width="1.7"/>
<line x1="227.80" y1="516.90" x2="227.80" y2="526.80" stroke="#000" stroke-width="1.7"/>
<line x1="221.00" y1="396.10" x2="234.60" y2="396.10" stroke="#000" stroke-width="1.9"/>
<line x1="221.00" y1="526.80" x2="234.60" y2="526.80" stroke="#000" stroke-width="1.9"/>
<rect x="214.80" y="467.20" width="26.00" height="48.80" fill="#5a5a5a" stroke="#000" stroke-width="1.9"/>
<line x1="214.80" y1="493.90" x2="240.80" y2="493.90" stroke="#000" stroke-width="3.0"/>
<text x="227.80" y="491.20" font-size="9.4" text-anchor="middle" font-weight="normal" fill="#111" >129</text>
<rect x="329.20" y="399.90" width="26.00" height="132.70" fill="#000" stroke="#000" stroke-width="1.9"/>
<text x="342.20" y="527.00" font-size="10" text-anchor="middle" font-weight="bold" fill="#fff" >62</text>
<rect x="366.80" y="433.40" width="26.00" height="99.20" fill="#fff" stroke="#000" stroke-width="1.9"/>
<text x="379.80" y="527.00" font-size="9.4" text-anchor="middle" font-weight="normal" fill="#000" >825</text>
<rect x="404.70" y="410.80" width="26.00" height="121.80" fill="url(#grad)" stroke="#000" stroke-width="1.9"/>
<text x="417.70" y="527.00" font-size="9.4" text-anchor="middle" font-weight="normal" fill="#222" >369</text>
<rect x="442.30" y="415.10" width="26.00" height="117.50" fill="#c4c4c4" stroke="#000" stroke-width="1.9"/>
<text x="455.30" y="527.00" font-size="9.4" text-anchor="middle" font-weight="normal" fill="#111" >272</text>
<rect x="479.70" y="405.20" width="26.00" height="127.40" fill="#5a5a5a" stroke="#000" stroke-width="1.9"/>
<text x="492.70" y="527.00" font-size="9.4" text-anchor="middle" font-weight="normal" fill="#111" >250</text>
<line x1="323.70" y1="367.60" x2="323.70" y2="535.80" stroke="#000" stroke-width="1.2"/>
<line x1="318.40" y1="532.60" x2="323.70" y2="532.60" stroke="#000" stroke-width="1.2"/>
<text x="317.65" y="538.10" font-size="15.3" text-anchor="end" font-weight="normal" fill="#000" >0</text>
<line x1="318.40" y1="499.60" x2="323.70" y2="499.60" stroke="#000" stroke-width="1.2"/>
<text x="317.65" y="505.10" font-size="15.3" text-anchor="end" font-weight="normal" fill="#000" >20</text>
<line x1="318.40" y1="466.60" x2="323.70" y2="466.60" stroke="#000" stroke-width="1.2"/>
<text x="317.65" y="472.10" font-size="15.3" text-anchor="end" font-weight="normal" fill="#000" >40</text>
<line x1="318.40" y1="433.60" x2="323.70" y2="433.60" stroke="#000" stroke-width="1.2"/>
<text x="317.65" y="439.10" font-size="15.3" text-anchor="end" font-weight="normal" fill="#000" >60</text>
<line x1="318.40" y1="400.60" x2="323.70" y2="400.60" stroke="#000" stroke-width="1.2"/>
<text x="317.65" y="406.10" font-size="15.3" text-anchor="end" font-weight="normal" fill="#000" >80</text>
<line x1="318.40" y1="367.60" x2="323.70" y2="367.60" stroke="#000" stroke-width="1.2"/>
<text x="317.65" y="373.10" font-size="15.3" text-anchor="end" font-weight="normal" fill="#000" >100</text>
<line x1="322.80" y1="532.60" x2="512.50" y2="532.60" stroke="#000" stroke-width="1.9"/>
<line x1="361.10" y1="532.60" x2="361.10" y2="535.80" stroke="#000" stroke-width="1.6"/>
<line x1="398.70" y1="532.60" x2="398.70" y2="535.80" stroke="#000" stroke-width="1.6"/>
<line x1="436.60" y1="532.60" x2="436.60" y2="535.80" stroke="#000" stroke-width="1.6"/>
<line x1="474.20" y1="532.60" x2="474.20" y2="535.80" stroke="#000" stroke-width="1.6"/>
<line x1="511.60" y1="532.60" x2="511.60" y2="535.80" stroke="#000" stroke-width="1.6"/>
<text x="342.20" y="546.10" font-size="12.3" text-anchor="middle" font-weight="normal" fill="#000" >PIL</text>
<text x="379.80" y="546.10" font-size="12.3" text-anchor="middle" font-weight="normal" fill="#000" >all</text>
<text x="417.70" y="546.10" font-size="12.3" text-anchor="middle" font-weight="normal" fill="#000" >mot-</text>
<text x="417.70" y="560.70" font-size="12.3" text-anchor="middle" font-weight="normal" fill="#000" >fluct</text>
<text x="455.30" y="546.10" font-size="12.3" text-anchor="middle" font-weight="normal" fill="#000" >dz-</text>
<text x="455.30" y="560.70" font-size="12.3" text-anchor="middle" font-weight="normal" fill="#000" >dur</text>
<text x="492.70" y="546.10" font-size="12.3" text-anchor="middle" font-weight="normal" fill="#000" >age-</text>
<text x="492.70" y="560.70" font-size="12.3" text-anchor="middle" font-weight="normal" fill="#000" >ons</text>
<path d="M361.10,562.30 L361.10,566.50 L511.60,566.50 L511.60,562.30" stroke="#000" stroke-width="2.0" fill="none" />
<text x="436.35" y="582.10" font-size="12.3" text-anchor="middle" font-weight="normal" fill="#000" >no PIL</text>
<line x1="342.20" y1="323.20" x2="342.20" y2="390.80" stroke="#000" stroke-width="1.8"/>
<path d="M342.20,324.10 L492.70,324.10 L492.70,392.80" stroke="#000" stroke-width="1.8" fill="none" />
<text x="423.80" y="320.00" font-size="12" text-anchor="middle" font-weight="normal" fill="#000" >ns</text>
<path d="M342.20,342.50 L455.30,342.50 L455.30,400.40" stroke="#000" stroke-width="1.8" fill="none" />
<text x="401.00" y="338.80" font-size="12" text-anchor="middle" font-weight="normal" fill="#000" >ns</text>
<path d="M342.20,360.50 L417.70,360.50 L417.70,395.60" stroke="#000" stroke-width="1.8" fill="none" />
<text x="382.00" y="356.80" font-size="12" text-anchor="middle" font-weight="normal" fill="#000" >ns</text>
<path d="M342.20,378.60 L379.80,378.60 L379.80,419.70" stroke="#000" stroke-width="1.8" fill="none" />
<text x="366.60" y="374.50" font-size="12" text-anchor="middle" font-weight="normal" fill="#000" >&lt;0.005</text>
<rect x="593.80" y="476.20" width="26.00" height="56.50" fill="#000" stroke="#000" stroke-width="1.9"/>
<text x="606.80" y="527.00" font-size="10" text-anchor="middle" font-weight="bold" fill="#fff" >62</text>
<rect x="631.70" y="498.60" width="26.00" height="34.10" fill="#fff" stroke="#000" stroke-width="1.9"/>
<text x="644.70" y="527.00" font-size="9.4" text-anchor="middle" font-weight="normal" fill="#000" >819</text>
<rect x="669.60" y="498.60" width="26.00" height="34.10" fill="url(#grad)" stroke="#000" stroke-width="1.9"/>
<text x="682.60" y="527.00" font-size="9.4" text-anchor="middle" font-weight="normal" fill="#222" >369</text>
<rect x="707.40" y="498.60" width="26.00" height="34.10" fill="#c4c4c4" stroke="#000" stroke-width="1.9"/>
<text x="720.40" y="527.00" font-size="9.4" text-anchor="middle" font-weight="normal" fill="#111" >270</text>
<rect x="745.80" y="497.70" width="26.00" height="35.00" fill="#5a5a5a" stroke="#000" stroke-width="1.9"/>
<text x="758.80" y="527.00" font-size="9.4" text-anchor="middle" font-weight="normal" fill="#111" >250</text>
<line x1="588.80" y1="367.70" x2="588.80" y2="535.90" stroke="#000" stroke-width="1.2"/>
<line x1="583.50" y1="532.70" x2="588.80" y2="532.70" stroke="#000" stroke-width="1.2"/>
<text x="582.85" y="538.20" font-size="15.3" text-anchor="end" font-weight="normal" fill="#000" >0</text>
<line x1="583.50" y1="499.70" x2="588.80" y2="499.70" stroke="#000" stroke-width="1.2"/>
<text x="582.85" y="505.20" font-size="15.3" text-anchor="end" font-weight="normal" fill="#000" >20</text>
<line x1="583.50" y1="466.70" x2="588.80" y2="466.70" stroke="#000" stroke-width="1.2"/>
<text x="582.85" y="472.20" font-size="15.3" text-anchor="end" font-weight="normal" fill="#000" >40</text>
<line x1="583.50" y1="433.70" x2="588.80" y2="433.70" stroke="#000" stroke-width="1.2"/>
<text x="582.85" y="439.20" font-size="15.3" text-anchor="end" font-weight="normal" fill="#000" >60</text>
<line x1="583.50" y1="400.70" x2="588.80" y2="400.70" stroke="#000" stroke-width="1.2"/>
<text x="582.85" y="406.20" font-size="15.3" text-anchor="end" font-weight="normal" fill="#000" >80</text>
<line x1="583.50" y1="367.70" x2="588.80" y2="367.70" stroke="#000" stroke-width="1.2"/>
<text x="582.85" y="373.20" font-size="15.3" text-anchor="end" font-weight="normal" fill="#000" >100</text>
<line x1="587.90" y1="532.70" x2="778.60" y2="532.70" stroke="#000" stroke-width="1.9"/>
<line x1="625.70" y1="532.70" x2="625.70" y2="535.90" stroke="#000" stroke-width="1.6"/>
<line x1="663.60" y1="532.70" x2="663.60" y2="535.90" stroke="#000" stroke-width="1.6"/>
<line x1="701.50" y1="532.70" x2="701.50" y2="535.90" stroke="#000" stroke-width="1.6"/>
<line x1="739.30" y1="532.70" x2="739.30" y2="535.90" stroke="#000" stroke-width="1.6"/>
<line x1="777.70" y1="532.70" x2="777.70" y2="535.90" stroke="#000" stroke-width="1.6"/>
<text x="606.80" y="546.20" font-size="12.3" text-anchor="middle" font-weight="normal" fill="#000" >PIL</text>
<text x="644.70" y="546.20" font-size="12.3" text-anchor="middle" font-weight="normal" fill="#000" >all</text>
<text x="682.60" y="546.20" font-size="12.3" text-anchor="middle" font-weight="normal" fill="#000" >mot-</text>
<text x="682.60" y="560.80" font-size="12.3" text-anchor="middle" font-weight="normal" fill="#000" >fluct</text>
<text x="720.40" y="546.20" font-size="12.3" text-anchor="middle" font-weight="normal" fill="#000" >dis-</text>
<text x="720.40" y="560.80" font-size="12.3" text-anchor="middle" font-weight="normal" fill="#000" >dur</text>
<text x="758.80" y="546.20" font-size="12.3" text-anchor="middle" font-weight="normal" fill="#000" >age-</text>
<text x="758.80" y="560.80" font-size="12.3" text-anchor="middle" font-weight="normal" fill="#000" >ons</text>
<path d="M625.70,562.40 L625.70,566.60 L777.70,566.60 L777.70,562.40" stroke="#000" stroke-width="2.0" fill="none" />
<text x="682.60" y="582.20" font-size="12.3" text-anchor="middle" font-weight="normal" fill="#000" >no PIL</text>
<line x1="606.80" y1="402.90" x2="606.80" y2="469.10" stroke="#000" stroke-width="1.8"/>
<path d="M606.80,403.80 L758.80,403.80 L758.80,489.80" stroke="#000" stroke-width="1.8" fill="none" />
<text x="687.00" y="401.10" font-size="12" text-anchor="middle" font-weight="normal" fill="#000" >&lt;0.05</text>
<path d="M606.80,422.00 L720.40,422.00 L720.40,490.70" stroke="#000" stroke-width="1.8" fill="none" />
<text x="670.00" y="418.50" font-size="12" text-anchor="middle" font-weight="normal" fill="#000" >&lt;0.05</text>
<path d="M606.80,439.40 L682.60,439.40 L682.60,490.70" stroke="#000" stroke-width="1.8" fill="none" />
<text x="647.40" y="436.10" font-size="12" text-anchor="middle" font-weight="normal" fill="#000" >&lt;0.05</text>
<path d="M606.80,457.00 L644.70,457.00 L644.70,492.00" stroke="#000" stroke-width="1.8" fill="none" />
<text x="627.20" y="453.80" font-size="12" text-anchor="middle" font-weight="normal" fill="#000" >&lt;0.05</text>
</svg></body></html>
